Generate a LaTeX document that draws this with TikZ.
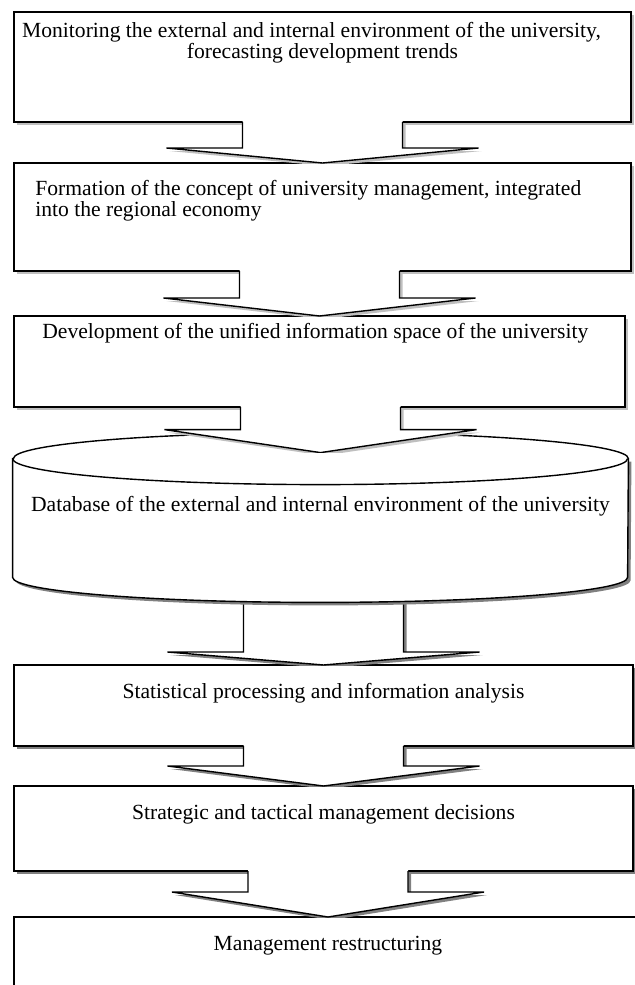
\documentclass[tikz,border=0pt]{standalone}
\usepackage{fontspec}
\setmainfont{Liberation Serif}
\usetikzlibrary{positioning,calc,shadows}

\definecolor{shadelight}{gray}{0.75}
\definecolor{shadedark}{gray}{0.5}

\tikzset{
  box/.style={draw, fill=white, line width=0.7pt, inner sep=0pt, outer sep=0pt},
  lightbox/.style={box, drop shadow={shadow xshift=1.5pt, shadow yshift=-1.5pt, fill=shadelight, opacity=1}},
  darkbox/.style={box, drop shadow={shadow xshift=1.5pt, shadow yshift=-1.5pt, fill=shadedark, opacity=1}},
  lbl/.style={inner sep=0pt, font=\fontsize{10.8}{10.5}\selectfont},
}

% block arrow: from, to, head depth, shadow colour, start shift
\newcommand{\blockarrow}[5]{%
  \coordinate (s) at ($(#1 -| #2)+(0,#5)$);
  \coordinate (t) at (#2);
  \coordinate (w) at ($(t)+(0,#3)$);
  \begin{scope}
    \clip ($(s)+(-200,2)$) rectangle ($(t)+(200,0)$);
    \begin{scope}[transform canvas={shift={(1.5pt,-1.5pt)}}]
      \fill[#4] ($(s)+(-80,1.5)$) -- ($(w)+(-80,0)$) -- ($(w)+(-156,0)$) -- (t)
        -- ($(w)+(156,0)$) -- ($(w)+(80,0)$) -- ($(s)+(80,1.5)$) -- cycle;
    \end{scope}
    \fill[white] ($(s)+(-80,1.5)$) -- ($(w)+(-80,0)$) -- ($(w)+(-156,0)$) -- (t)
      -- ($(w)+(156,0)$) -- ($(w)+(80,0)$) -- ($(s)+(80,1.5)$) -- cycle;
    \draw[line width=0.7pt] ($(s)+(-80,0)$) -- ($(w)+(-80,0)$) -- ($(w)+(-156,0)$) -- (t)
      -- ($(w)+(156,0)$) -- ($(w)+(80,0)$) -- ($(s)+(80,0)$);
  \end{scope}}

\begin{document}
\begin{tikzpicture}[x=0.5pt, y=0.5pt]
  \useasboundingbox[fill=white] (0,0) rectangle (634,-985);

  % boxes
  \node[lightbox, minimum width=308.5pt, minimum height=55pt] (monitor) at (322.5,-67) {};
  \node[lightbox, minimum width=308.5pt, minimum height=54pt] (concept) at (322.5,-217) {};
  \node[lightbox, minimum width=305.5pt, minimum height=45.5pt] (infospace) at (319.5,-361.5) {};
  \node[inner sep=0pt, minimum width=307.5pt, minimum height=84.5pt] (db) at (320.5,-517.5) {};
  \node[darkbox, minimum width=309.5pt, minimum height=40.5pt] (stats) at (323.5,-705.5) {};
  \node[darkbox, minimum width=309.5pt, minimum height=42.5pt] (decisions) at (323.5,-828.5) {};
  \node[darkbox, minimum width=314pt, minimum height=45pt] (restruct) at (328,-962) {};
  \coordinate (dbtip) at ($(db.north)+(0,-20)$);

  % texts
  \node[lbl, align=center, below=5pt of monitor.north] (monitortxt)
    {Monitoring the external and internal environment of the university,\hspace*{11pt}\\ forecasting development trends};
  \node[lbl, align=left, below right=8.5pt and 10.5pt of concept.north west] (concepttxt)
    {Formation of the concept of university management, integrated\\into the regional economy};
  \node[lbl, below right=3.5pt and 14pt of infospace.north west] (infospacetxt)
    {Development of the unified information space of the university};
  \node[lbl, below=9pt of stats.north] (statstxt) {Statistical processing and information analysis};
  \node[lbl, below=9pt of decisions.north] (decisionstxt) {Strategic and tactical management decisions};
  \node[lbl, below=9.5pt of restruct.north] (restructtxt) {Management restructuring};

  \blockarrow{monitor.south}{concept.north}{15}{shadelight}{0}
  \blockarrow{concept.south}{infospace.north}{18}{shadelight}{0}
  \blockarrow{db.south}{stats.north}{13}{shadedark}{12}

  % database cylinder
  \coordinate (dbtl) at ($(db.north west)+(0,-26)$);
  \coordinate (dbtr) at ($(db.north east)+(0,-26)$);
  \coordinate (dbbl) at ($(db.south west)+(0,25)$);
  \begin{scope}[transform canvas={shift={(1.5pt,-1.5pt)}}]
    \fill[shadedark] (dbtl) -- (dbbl) arc[start angle=180, end angle=360, x radius=307.5, y radius=25] -- (dbtr) -- cycle;
  \end{scope}
  \draw[fill=white, line width=0.7pt] (dbtl) -- (dbbl) arc[start angle=180, end angle=360, x radius=307.5, y radius=25]
    -- (dbtr) arc[start angle=0, end angle=180, x radius=307.5, y radius=26] -- cycle;
  \draw[line width=0.7pt] (dbtl) arc[start angle=180, end angle=360, x radius=307.5, y radius=26];
  \node[lbl, below=31.5pt of db.north] (dbtxt) {Database of the external and internal environment of the university};

  \blockarrow{infospace.south}{dbtip}{23}{shadelight}{0}
  \blockarrow{stats.south}{decisions.north}{20}{shadedark}{0}
  \blockarrow{decisions.south}{restruct.north}{25}{shadedark}{0}
\end{tikzpicture}
\end{document}
